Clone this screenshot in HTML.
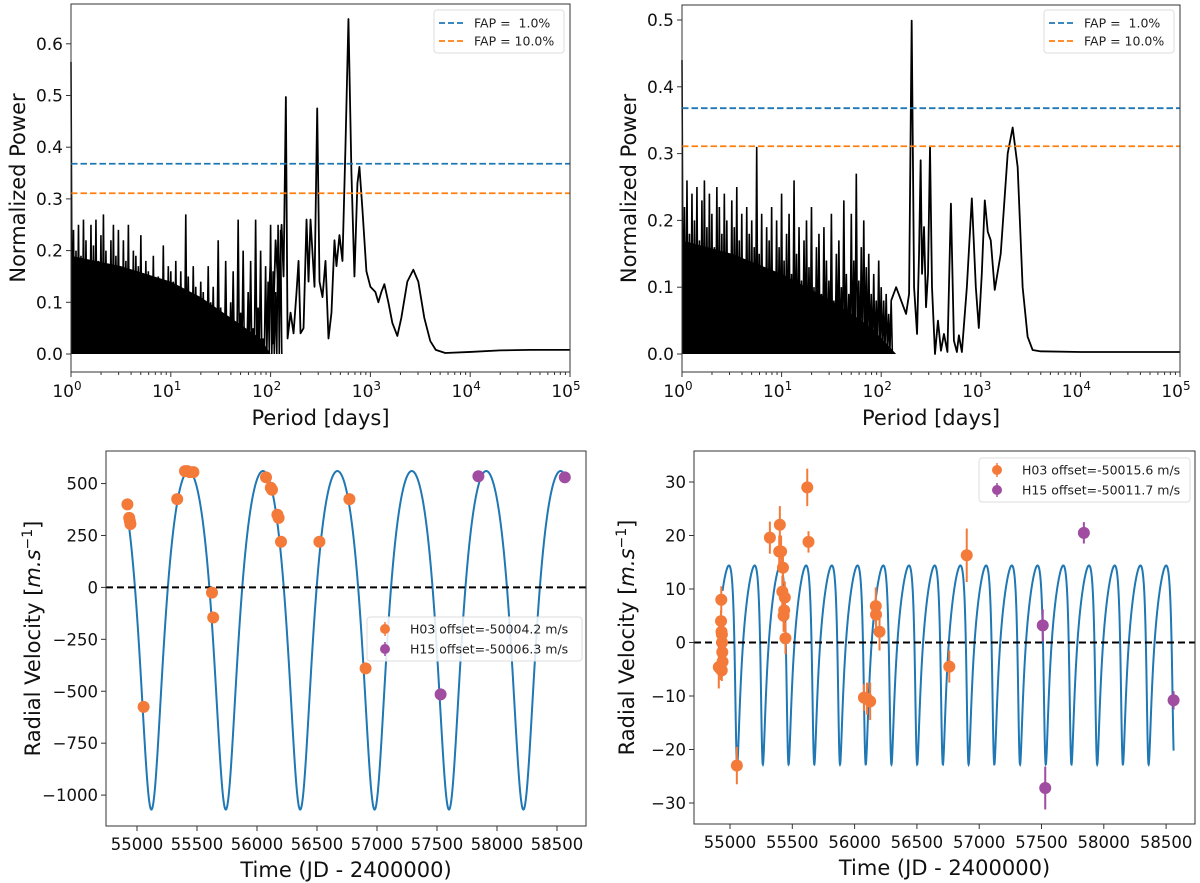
<!DOCTYPE html>
<html><head><meta charset="utf-8"><style>
html,body{margin:0;padding:0;background:#fff}
svg{display:block;font-family:"DejaVu Sans","Liberation Sans",sans-serif}
text{white-space:pre}
</style></head><body>
<svg id="fig" width="1200" height="883" viewBox="0 0 1200 883" xmlns="http://www.w3.org/2000/svg"></svg>
<script>
// ---------- DATA ----------
const leftNoiseTops=[0.565,
0.24,0.20,0.25,0.19,0.26,0.22,0.17,0.25,0.21,0.26,
0.18,0.23,0.27,0.20,0.16,0.22,0.25,0.19,0.24,0.15,
0.22,0.18,0.25,0.14,0.20,0.19,0.17,0.23,0.13,0.18,
0.16,0.12,0.19,0.11,0.15,0.14,0.21,0.13,0.17,0.16,
0.14,0.18,0.12,0.16,0.10,0.27,0.15,0.11,0.17,0.13,
0.09,0.14,0.12,0.08,0.17,0.10,0.13,0.06,0.22,0.09,
0.07,0.18,0.05,0.10,0.16,0.06,0.26,0.08,0.20,0.04,
0.12,0.18,0.05,0.26,0.09,0.20,0.03,0.17,0.14,0.25,
0.16,0.12,0.25,0.24];
const rightNoiseTops=[0.44,
0.22,0.26,0.18,0.24,0.20,0.25,0.17,0.23,0.26,0.19,
0.24,0.21,0.16,0.25,0.22,0.18,0.24,0.20,0.15,0.23,
0.19,0.25,0.17,0.21,0.14,0.22,0.18,0.20,0.16,0.31,
0.15,0.21,0.13,0.19,0.17,0.22,0.12,0.20,0.16,0.24,
0.14,0.18,0.21,0.12,0.26,0.15,0.19,0.11,0.17,0.20,
0.13,0.22,0.10,0.16,0.18,0.09,0.19,0.14,0.11,0.21,
0.08,0.15,0.17,0.10,0.23,0.12,0.09,0.21,0.14,0.27,
0.11,0.16,0.20,0.13,0.15,0.09,0.12,0.08,0.14,0.10,
0.08,0.09,0.06,0.08];
const leftBandLogP=[0,0.5,1.0,1.3,1.6,1.9,2.0];
const leftBandPow=[0.19,0.17,0.14,0.11,0.07,0.03,0.0];
const rightBandLogP=[0,0.5,1.0,1.5,1.9,2.15];
const rightBandPow=[0.17,0.15,0.12,0.08,0.04,0.0];
const leftLogP=[1.97,2.0,2.02,2.05,2.08,2.11,2.13,2.153,2.17,2.20,2.23,2.26,2.28,2.30,2.33,2.36,2.38,2.40,2.44,2.467,2.49,2.52,2.55,2.58,2.61,2.64,2.66,2.69,2.72,2.75,2.78,2.81,2.84,2.87,2.89,2.92,2.96,3.0,3.05,3.08,3.11,3.14,3.18,3.22,3.27,3.31,3.37,3.43,3.48,3.54,3.6,3.655,3.75,4.0,4.3,4.6,5.0];
const leftPow=[0.05,0.18,0.02,0.22,0.12,0.25,0.15,0.497,0.03,0.08,0.04,0.12,0.18,0.04,0.05,0.26,0.14,0.26,0.13,0.475,0.14,0.11,0.18,0.03,0.08,0.22,0.17,0.23,0.18,0.40,0.648,0.35,0.15,0.33,0.362,0.28,0.16,0.13,0.12,0.10,0.12,0.135,0.10,0.06,0.035,0.07,0.14,0.163,0.14,0.07,0.025,0.008,0.002,0.004,0.007,0.008,0.008];
const rightLogP=[2.1,2.15,2.2,2.25,2.28,2.306,2.33,2.36,2.38,2.396,2.41,2.43,2.45,2.47,2.49,2.51,2.54,2.57,2.60,2.63,2.665,2.70,2.73,2.76,2.78,2.81,2.86,2.91,2.95,2.98,3.01,3.04,3.07,3.10,3.14,3.20,3.27,3.32,3.37,3.42,3.47,3.52,3.6,4.0,5.0];
const rightPow=[0.08,0.10,0.08,0.06,0.09,0.499,0.10,0.03,0.15,0.29,0.12,0.19,0.07,0.12,0.31,0.10,0.0,0.05,0.005,0.03,0.003,0.225,0.02,0.003,0.028,0.003,0.10,0.233,0.10,0.039,0.12,0.23,0.183,0.17,0.096,0.15,0.30,0.339,0.28,0.10,0.026,0.006,0.004,0.003,0.003];
const fapLevels=[0.368,0.311];
const fapLabels=["FAP =  1.0%","FAP = 10.0%"];
const logTickLabels=["0","1","2","3","4","5"];
const topYTicksL=[0.0,0.1,0.2,0.3,0.4,0.5,0.6];
const topYTicksR=[0.0,0.1,0.2,0.3,0.4,0.5];
const rvLT_h03=[54920,54935,54940,54945,55055,55335,55400,55420,55440,55470,55625,55635,56075,56115,56125,56170,56180,56200,56520,56770,56905];
const rvLV_h03=[400,335,320,305,-575,425,560,560,555,555,-25,-145,530,480,470,350,335,220,220,425,-390];
const rvLT_h15=[57530,57845,58565];
const rvLV_h15=[-515,535,530];
const rvLYTicks=[500,250,0,-250,-500,-750,-1000];
const timeTicks=[55000,55500,56000,56500,57000,57500,58000,58500];
const kepL={P:620,K:815,e:0.25,w:Math.PI,tp:55120,g:-51,t0:54920,t1:58560};
const rvRT_h03=[54910,54925,54930,54928,54932,54935,54936,54938,54940,54934,55055,55320,55395,55400,55410,55420,55425,55430,55435,55440,55445,55620,55630,56075,56100,56125,56170,56172,56200,56760,56900];
const rvRV_h03=[-4.6,-5,8,4,2,1.5,0,-1.8,-3.6,-5.2,-23,19.6,17,22,17,9.5,14,5,6,8.4,0.8,29,18.8,-10.3,-10.5,-11,6.8,5.2,2,-4.5,16.3];
const rvRE_h03=[4,2,2.5,2,2,2,2,2,2,2,3.5,3,3,3.5,3,3,3,3,3,3,3,3.5,2,2.5,3,3.5,3.5,3,3.5,3,5];
const rvRT_h15=[57510,57530,57840,58560];
const rvRV_h15=[3.2,-27.2,20.5,-10.8];
const rvRE_h15=[3,4,2,1.7];
const rvRYTicks=[30,20,10,0,-10,-20,-30];
const kepR={P:206.4,K:18.6,e:0.45,w:2.5,tp:55050,g:2.5,t0:54940,t1:58560};

// ---------- HELPERS ----------
const NS="http://www.w3.org/2000/svg";
const svg=document.getElementById('fig');
function el(tag,attrs,parent){const e=document.createElementNS(NS,tag);for(const k in attrs)e.setAttribute(k,attrs[k]);(parent||svg).appendChild(e);return e;}
const ORANGE="#f47a3a",PURPLE="#a04ca0",BLUE="#1f77b4";

function kepler(p,t){
  const M=2*Math.PI*(t-p.tp)/p.P;
  let E=M;for(let i=0;i<30;i++)E=E-(E-p.e*Math.sin(E)-M)/(1-p.e*Math.cos(E));
  const nu=2*Math.atan2(Math.sqrt(1+p.e)*Math.sin(E/2),Math.sqrt(1-p.e)*Math.cos(E/2));
  return p.K*(Math.cos(nu+p.w)+p.e*Math.cos(p.w))+p.g;
}

function periodogram(name,ax,noiseTops,bandLogP,bandPow,logP,pow,yTicks,legX){
  const g=el('g',{},svg);
  
  
  const X=l=>ax.x0+(l-0)/5*(ax.x1-ax.x0);
  const Y=v=>ax.yz-(v)*ax.s;
  let bp=bandLogP.map((l,i)=>X(l)+','+Y(bandPow[i])).join(' ');
  bp+=' '+X(bandLogP[bandLogP.length-1])+','+Y(0)+' '+X(0)+','+Y(0);
  const band=el('polygon',{points:bp,fill:'#000'},g);
  
  
  let pts=[];
  noiseTops.forEach((v,i)=>{const l=i*0.025;pts.push(X(l)+','+Y(v));pts.push((X(l)+1.2)+','+Y(0));});
  const nz=el('polyline',{points:pts.join(' '),fill:'none',stroke:'#000','stroke-width':1.6},g);
  
  
  const sm=el('polyline',{points:logP.map((l,i)=>X(l)+','+Y(pow[i])).join(' '),fill:'none',stroke:'#000','stroke-width':1.8,'stroke-linejoin':'round'},g);
  
  
  const cols=[BLUE,'#ff7f0e'];
  fapLevels.forEach((f,i)=>{const ln=el('line',{x1:ax.x0,x2:ax.x1,y1:Y(f),y2:Y(f),stroke:cols[i],'stroke-width':1.8,'stroke-dasharray':'6.5,3'},g);
    
    });
  const fr=el('rect',{x:ax.x0,y:ax.y0,width:ax.x1-ax.x0,height:ax.y1-ax.y0,fill:'none',stroke:'#333','stroke-width':1},g);
  
  
  for(let d=0;d<=5;d++){
    el('line',{x1:X(d),x2:X(d),y1:ax.y1,y2:ax.y1+5,stroke:'#333'},g);
    const t=el('text',{x:X(d)-4,y:ax.y1+25,'font-size':17,'text-anchor':'middle',fill:'#111'},g);
    
    
    t.textContent='10';
    const s=el('tspan',{dy:-7,'font-size':12},t);s.textContent=logTickLabels[d];
    if(d<5)for(let m=2;m<10;m++){const xx=X(d+Math.log10(m));el('line',{x1:xx,x2:xx,y1:ax.y1,y2:ax.y1+3,stroke:'#333'},g);}
  }
  yTicks.forEach(v=>{el('line',{x1:ax.x0-5,x2:ax.x0,y1:Y(v),y2:Y(v),stroke:'#333'},g);
    const t=el('text',{x:ax.x0-8,y:Y(v)+6,'font-size':17,'text-anchor':'end',fill:'#111'},g);
    
    
    t.textContent=v.toFixed(1);});
  const xt=el('text',{x:(ax.x0+ax.x1)/2,y:ax.y1+53,'font-size':21,'text-anchor':'middle',fill:'#111'},g);
  
  
  xt.textContent='Period [days]';
  const yt=el('text',{x:0,y:0,'font-size':21,'text-anchor':'middle',fill:'#111',transform:`translate(${ax.x0-46},${(ax.y0+ax.y1)/2}) rotate(-90)`},g);
  
  
  yt.textContent='Normalized Power';
  const lg=el('g',{},g);
  
  
  el('rect',{x:legX,y:10,width:130,height:43,rx:3,fill:'#fff','fill-opacity':0.85,stroke:'#ddd'},lg);
  fapLabels.forEach((lab,i)=>{const yy=23+i*18;
    el('line',{x1:legX+5,x2:legX+30,y1:yy,y2:yy,stroke:cols[i],'stroke-width':1.8,'stroke-dasharray':'6,3'},lg);
    const t=el('text',{x:legX+40,y:yy+4.5,'font-size':12.5,fill:'#222'},lg);
    
    
    t.textContent=lab;});
}

function rvPanel(name,ax,kep,h03T,h03V,h03E,h15T,h15V,h15E,yTicks,legend,leg){
  const g=el('g',{},svg);
  
  
  const X=t=>ax.x55+(t-55000)*ax.sx;
  const Y=v=>ax.yz-v*ax.sy;
  let pts=[];
  for(let t=kep.t0;t<=kep.t1;t+=1)pts.push(X(t).toFixed(2)+','+Y(kepler(kep,t)).toFixed(2));
  const cv=el('polyline',{points:pts.join(' '),fill:'none',stroke:BLUE,'stroke-width':2},g);
  
  
  const z=el('line',{x1:ax.x0,x2:ax.x1,y1:Y(0),y2:Y(0),stroke:'#000','stroke-width':2,'stroke-dasharray':'7,4'},g);
  
  
  function pts2(T,V,E,col,nm){T.forEach((t,i)=>{
    if(E){const l=el('line',{x1:X(t),x2:X(t),y1:Y(V[i]+E[i]),y2:Y(V[i]-E[i]),stroke:col,'stroke-width':2},g);
      
      }
    const c=el('circle',{cx:X(t),cy:Y(V[i]),r:6,fill:col},g);
    
    });}
  pts2(h03T,h03V,h03E,ORANGE,'h03');
  pts2(h15T,h15V,h15E,PURPLE,'h15');
  const fr=el('rect',{x:ax.x0,y:ax.y0,width:ax.x1-ax.x0,height:ax.y1-ax.y0,fill:'none',stroke:'#333','stroke-width':1},g);
  
  
  timeTicks.forEach(t=>{el('line',{x1:X(t),x2:X(t),y1:ax.y1,y2:ax.y1+5,stroke:'#333'},g);
    const tx=el('text',{x:X(t),y:ax.y1+24,'font-size':16.5,'text-anchor':'middle',fill:'#111'},g);
    
    
    tx.textContent=t;});
  yTicks.forEach(v=>{el('line',{x1:ax.x0-5,x2:ax.x0,y1:Y(v),y2:Y(v),stroke:'#333'},g);
    const tx=el('text',{x:ax.x0-8,y:Y(v)+6,'font-size':16.5,'text-anchor':'end',fill:'#111'},g);
    
    
    tx.textContent=(v<0?'\u2212':'')+Math.abs(v);});
  const xt=el('text',{x:(ax.x0+ax.x1)/2,y:ax.y1+51,'font-size':21,'text-anchor':'middle',fill:'#111'},g);
  
  
  xt.textContent='Time (JD - 2400000)';
  const yt=el('text',{x:0,y:0,'font-size':21,'text-anchor':'middle',fill:'#111',transform:`translate(${ax.ylx},${(ax.y0+ax.y1)/2}) rotate(-90)`},g);
  
  
  yt.textContent='Radial Velocity [';
  const it=el('tspan',{'font-style':'italic'},yt);it.textContent='m.s';
  const sp=el('tspan',{dy:-8,'font-size':14},yt);sp.textContent='\u22121';
  const cl=el('tspan',{dy:8},yt);cl.textContent=']';
  const lg=el('g',{},g);
  
  
  el('rect',{x:leg.x,y:leg.y,width:leg.w,height:44,rx:3,fill:'#fff','fill-opacity':0.85,stroke:'#ddd'},lg);
  [[ORANGE,legend[0]],[PURPLE,legend[1]]].forEach((e,i)=>{const yy=leg.y+12+i*20;
    el('line',{x1:leg.x+18,x2:leg.x+18,y1:yy-7,y2:yy+7,stroke:e[0],'stroke-width':1.5},lg);
    el('circle',{cx:leg.x+18,cy:yy,r:5,fill:e[0]},lg);
    const t=el('text',{x:leg.x+43,y:yy+4.5,'font-size':12.5,fill:'#222'},lg);
    
    
    t.textContent=e[1];});
}

periodogram('periodogram-left',{x0:71,x1:570,y0:4,y1:372,yz:354,s:517},leftNoiseTops,leftBandLogP,leftBandPow,leftLogP,leftPow,topYTicksL,434);
periodogram('periodogram-right',{x0:682,x1:1180,y0:5,y1:372,yz:354,s:668},rightNoiseTops,rightBandLogP,rightBandPow,rightLogP,rightPow,topYTicksR,1044);
rvPanel('rv-left',{x0:106,x1:586,y0:451,y1:826,x55:137,sx:0.12,yz:587.4,sy:0.2077,ylx:40},kepL,rvLT_h03,rvLV_h03,null,rvLT_h15,rvLV_h15,null,rvLYTicks,["H03 offset=-50004.2 m/s","H15 offset=-50006.3 m/s"],{x:367,y:617,w:215});
rvPanel('rv-right',{x0:694,x1:1195,y0:451,y1:824,x55:730,sx:0.1246,yz:642.5,sy:5.35,ylx:634},kepR,rvRT_h03,rvRV_h03,rvRE_h03,rvRT_h15,rvRV_h15,rvRE_h15,rvRYTicks,["H03 offset=-50015.6 m/s","H15 offset=-50011.7 m/s"],{x:979,y:458,w:211});
</script>
</body></html>
